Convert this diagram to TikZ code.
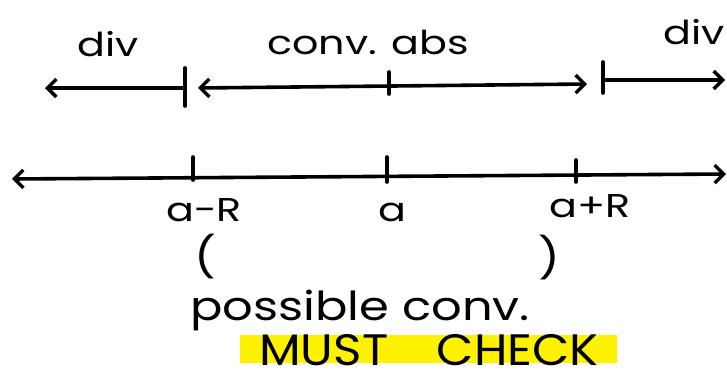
\documentclass[tikz,border=0pt]{standalone}
\usepackage{fontspec}
\setmainfont{Poppins}
\usetikzlibrary{arrows.meta}
\begin{document}
\begin{tikzpicture}[x=1pt,y=-1pt,
  pen/.style={line width=3.6pt,line cap=round,line join=round},
  barb/.tip={Straight Barb[length=9pt,width=18pt,line width=3.4pt]},
  lbl/.style={inner sep=0pt,font=\fontsize{33}{35}\selectfont,xscale=1.25},
  big/.style={inner sep=0pt,font=\fontsize{40}{42}\selectfont,xscale=1.2},
  caps/.style={inner sep=0pt,font=\fontsize{44}{46}\selectfont,xscale=1.1}]
\useasboundingbox (0,0) rectangle (727,370);
% top line points
\coordinate (tl) at (45,88);
\coordinate (t1) at (185,88);
\coordinate (t1r) at (198,88);
\coordinate (t2l) at (587,84);
\coordinate (t2) at (603,80);
\coordinate (tr) at (725,80);
% ticks on top line
\draw[pen] (185,68) -- (185,106);
\draw[pen] (389,72) -- (389,94);
\draw[pen] (603,62) -- (603,93);
% arrows on top line
\draw[pen,-barb] (t1) -- (tl);
\draw[pen,barb-barb] (t1r) -- (t2l);
\draw[pen,-barb] (t2) -- (tr);
% top labels
\node[lbl] (div1) at (108,44) {div};
\node[lbl] (cabs) at (368,42) {conv. abs};
\node[lbl] (div2) at (694,32) {div};
% lower line
\coordinate (bl) at (12,179);
\coordinate (br) at (726,174);
\draw[pen,barb-barb] (bl) -- (br);
\draw[pen] (193,157) -- (193,180);
\draw[pen] (387,157) -- (387,182);
\draw[pen] (576,160) -- (576,182);
\node[lbl] (amr) at (204,210) {a-R};
\node[lbl] (a) at (392,212) {a};
\node[lbl] (apr) at (590,206) {a+R};
% brackets
\node[big] (lb) at (205,257) {(};
\node[big] (rb) at (549,258) {)};
% bottom text
\fill[yellow] (240,335) rectangle (617,363);
\node[big] (pc) at (360,310) {possible conv.};
\node[caps] (mc) at (429,350) {MUST\quad CHECK};
\end{tikzpicture}
\end{document}
